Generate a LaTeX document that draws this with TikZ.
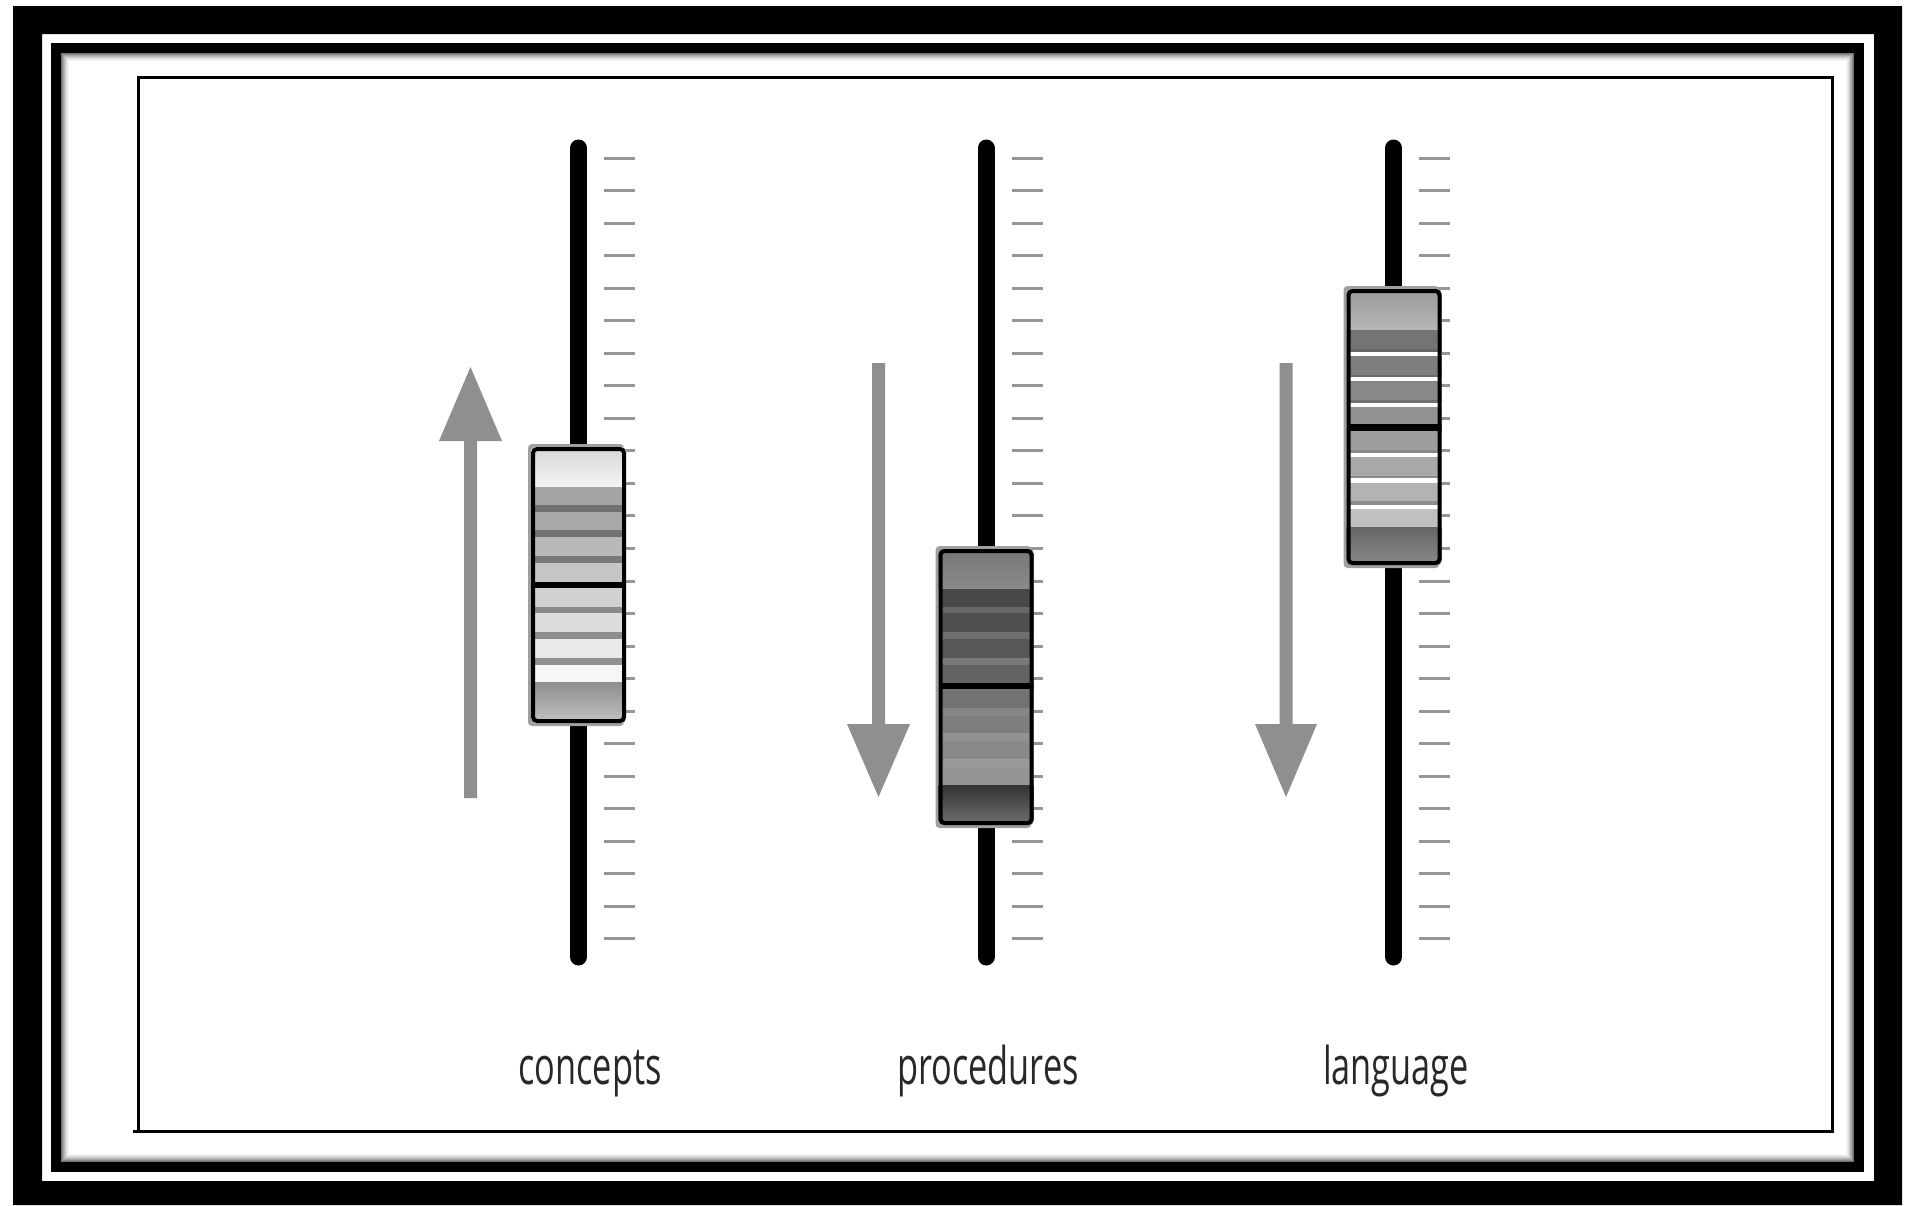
\documentclass[tikz,border=0pt]{standalone}
\usepackage{fontspec}
\setmainfont{Open Sans}
\usepackage{graphicx}
\definecolor{tickgray}{RGB}{150,150,152}
\definecolor{arrowgray}{RGB}{143,143,145}
\definecolor{halogray}{RGB}{160,160,160}
\definecolor{labelcol}{RGB}{40,40,40}
\newcommand\kstripe[3]{\definecolor{stc}{RGB}{#3,#3,#3}\fill[stc] (\kxl,\kyt+#1) rectangle (\kxr,\kyt+#2);}
\newcommand\kshade[4]{\definecolor{sta}{RGB}{#3,#3,#3}\definecolor{stb}{RGB}{#4,#4,#4}\shade[top color=sta,bottom color=stb] (\kxl,\kyt+#1) rectangle (\kxr,\kyt+#2);}
\newcommand\knobframe{%
  \fill[halogray,rounded corners=4pt] (\kxl-3,\kyt-3) rectangle (\kxr-2,\kyt+279);
  \begin{scope}
    \clip[rounded corners=4pt] (\kxl,\kyt) rectangle (\kxr,\kyt+276);
    \kstripemacro
  \end{scope}
  \draw[knobborder] (\kxl+2,\kyt+2) rectangle (\kxr-2,\kyt+274);
}
\begin{document}
\begin{tikzpicture}[x=1pt,y=-1pt,
  tickmark/.style={line width=3pt, draw=tickgray},
  bar/.style={line width=17pt, line cap=round, draw=black},
  arrowfill/.style={fill=arrowgray},
  knobborder/.style={draw=black, line width=4pt, rounded corners=4pt},
  lbl/.style={anchor=base, text=labelcol, inner sep=0pt, font=\fontsize{52}{60}\selectfont}]
\useasboundingbox (0,0) rectangle (1908,1205);
\fill[white] (0,0) rectangle (1908,1205);
% outer frame
\fill[black,even odd rule] (13,6) rectangle (1902,1205) (42,34) rectangle (1874,1181);
\draw[black,line width=10pt] (56,48) rectangle (1859,1167);
\foreach \i/\g in {0/55,1/45,2/36,3/28,4/20,5/13,6/8,7/4}{
  \draw[black!\g,line width=1pt] (61.5+\i,53.5+\i) rectangle (1853.5-\i,1161.5-\i);
}
% inner thin rectangle
\draw[black,line width=3pt] (138,77.5) rectangle (1832,1131.5);
\draw[black,line width=3pt] (133,1131.5) -- (138,1131.5);
% ticks
\foreach \bx in {578.5,986,1393.5}{
  \foreach \k in {0,...,24}{
    \draw[tickmark] (\bx+25.5,158+32.54*\k) -- (\bx+56.5,158+32.54*\k);
  }
}
% bars
\draw[bar] (578.5,148) coordinate (b1top) -- (578.5,957) coordinate (b1bot);
\draw[bar] (986,148) coordinate (b2top) -- (986,957) coordinate (b2bot);
\draw[bar] (1393.5,148) coordinate (b3top) -- (1393.5,957) coordinate (b3bot);
% arrows
\fill[arrowfill] (464,798) -- (477,798) -- (477,441) -- (502,441) -- (470.5,367) -- (439,441) -- (464,441) -- cycle;
\fill[arrowfill] (872,363) -- (885,363) -- (885,724) -- (910,724) -- (878.5,797) -- (847,724) -- (872,724) -- cycle;
\fill[arrowfill] (1279.5,363) -- (1292.5,363) -- (1292.5,724) -- (1317,724) -- (1286,797) -- (1255,724) -- (1279.5,724) -- cycle;
% knob 1
\def\kxl{531}\def\kxr{626}\def\kyt{447}
\def\kstripemacro{%
  \kshade{0}{41}{214}{246}
  \kstripe{40}{58}{165}
  \kstripe{58}{65}{112}
  \kstripe{65}{83}{169}
  \kstripe{83}{90}{115}
  \kstripe{90}{109}{185}
  \kstripe{109}{116}{122}
  \kstripe{116}{135}{197}
  \kstripe{135}{142}{0}
  \kstripe{141}{160}{209}
  \kstripe{160}{166}{138}
  \kstripe{166}{185}{221}
  \kstripe{185}{192}{142}
  \kstripe{192}{211}{233}
  \kstripe{211}{218}{144}
  \kstripe{218}{235}{246}
  \kshade{235}{277}{142}{196}}
\knobframe
% knob 2
\def\kxl{938.5}\def\kxr{1033.5}\def\kyt{549}
\def\kstripemacro{%
  \kshade{0}{41}{118}{139}
  \kstripe{40}{58}{72}
  \kstripe{58}{64}{103}
  \kstripe{64}{83}{79}
  \kstripe{83}{90}{111}
  \kstripe{90}{109}{87}
  \kstripe{109}{116}{122}
  \kstripe{116}{134}{99}
  \kstripe{134}{141}{0}
  \kstripe{140}{159}{115}
  \kstripe{159}{167}{134}
  \kstripe{167}{184}{126}
  \kstripe{184}{192}{145}
  \kstripe{192}{210}{136}
  \kstripe{210}{218}{154}
  \kstripe{218}{236}{149}
  \kshade{236}{277}{51}{114}}
\knobframe
% knob 3
\def\kxl{1346.5}\def\kxr{1441.5}\def\kyt{289}
\def\kstripemacro{%
  \kshade{0}{42}{154}{183}
  \kstripe{41}{60}{116}
  \kstripe{60}{63}{102}
  \kstripe{63}{67}{255}
  \kstripe{67}{86}{126}
  \kstripe{86}{88}{106}
  \kstripe{88}{92}{255}
  \kstripe{92}{111}{136}
  \kstripe{111}{114}{112}
  \kstripe{114}{118}{255}
  \kstripe{118}{135}{147}
  \kstripe{135}{142}{0}
  \kstripe{142}{161}{158}
  \kstripe{161}{164}{136}
  \kstripe{164}{168}{255}
  \kstripe{168}{187}{169}
  \kstripe{187}{189}{138}
  \kstripe{189}{194}{255}
  \kstripe{194}{212}{179}
  \kstripe{212}{216}{140}
  \kstripe{216}{220}{255}
  \kstripe{220}{238}{192}
  \kshade{238}{277}{102}{138}}
\knobframe
% labels
\node[lbl] (lconcepts) at (590,1084) {\scalebox{0.66}[1]{concepts}};
\node[lbl] (lprocedures) at (988,1084) {\scalebox{0.66}[1]{procedures}};
\node[lbl] (llanguage) at (1396,1084) {\scalebox{0.66}[1]{language}};
\end{tikzpicture}
\end{document}
